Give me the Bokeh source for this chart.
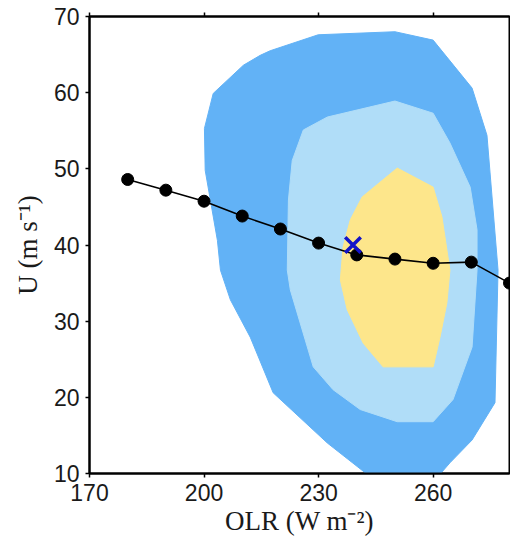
from bokeh.plotting import figure
from bokeh.models import LinearAxis, FixedTicker, Range1d
from bokeh.embed import file_html
from bokeh.resources import INLINE

# binned mean line (OLR in W m-2, U in m s-1)
olr = [180, 190, 200, 210, 220, 230, 240, 250, 260, 270, 280]
u_wind = [48.6, 47.2, 45.75, 43.8, 42.1, 40.25, 38.7, 38.15, 37.6, 37.75, 35.0]

# marked point
cross_olr = [239]
cross_u = [40]

# outer contour (dark blue)
outer_olr = [202.4, 210.3, 214.7, 217.3, 229.9, 250.0, 260.0, 270.2, 274.1, 277.0,
             276.2, 270.2, 264.4, 261.8, 242.7, 232.3, 218.1, 212.1, 206.9, 204.3,
             203.5, 200.3, 200.1]
outer_u = [59.9, 63.6, 64.9, 65.5, 67.6, 68.0, 66.9, 60.6, 54.4, 36.7,
           19.3, 14.4, 11.4, 9.9, 9.9, 14.0, 20.6, 27.9, 32.8, 36.7,
           40.6, 49.8, 55.3]

# middle contour (light blue)
mid_olr = [221.8, 222.1, 223.1, 226.0, 232.3, 250.0, 260.0, 264.4, 269.7, 271.5,
           271.5, 270.2, 265.2, 260.0, 250.6, 240.9, 233.8, 228.6, 222.6]
mid_u = [36.7, 45.9, 51.1, 55.1, 56.8, 58.9, 57.3, 53.4, 47.6, 42.0,
         36.7, 26.6, 19.7, 16.8, 16.8, 18.4, 21.0, 24.0, 34.1]

# inner contour (yellow)
inner_olr = [250.6, 260.0, 262.3, 264.4, 263.6, 261.8, 260.0, 246.9, 241.7, 237.5,
             235.7, 236.4, 238.3, 241.4]
inner_u = [50.1, 47.6, 43.7, 36.7, 32.4, 27.9, 24.0, 24.0, 27.1, 31.5,
           35.4, 39.7, 43.3, 46.3]

x_ticks = [170, 200, 230, 260]
y_ticks = [10, 20, 30, 40, 50, 60, 70]

p = figure(width=510, height=538, x_range=Range1d(170, 280), y_range=Range1d(10, 70),
           output_backend="svg", toolbar_location=None,
           min_border_left=89, min_border_right=1, min_border_top=16, min_border_bottom=10)
p.grid.visible = False
p.background_fill_color = "white"
p.border_fill_color = "white"
p.outline_line_color = "black"
p.outline_line_width = 2

p.patch(outer_olr, outer_u, fill_color="#62B2F6", line_color="#62B2F6", line_width=1)
p.patch(mid_olr, mid_u, fill_color="#B0DDF8", line_color="#B0DDF8", line_width=1)
p.patch(inner_olr, inner_u, fill_color="#FDE68B", line_color="#FDE68B", line_width=1)

p.line(olr, u_wind, line_color="black", line_width=1.6)
p.scatter(olr, u_wind, size=12, marker="circle", fill_color="black", line_color="black")
p.scatter(cross_olr, cross_u, size=22, marker="x", line_color="#1414C8", line_width=3.5)

bottom = p.below[0]
left = p.left[0]
top = LinearAxis()
p.add_layout(top, "above")

for ax in [bottom, left, top]:
    ax.axis_line_width = 2
    ax.axis_line_color = "black"
    ax.major_tick_line_width = 1.5
    ax.major_tick_line_color = "black"
    ax.major_tick_out = 4
    ax.major_tick_in = 0
    ax.minor_tick_line_color = None
    ax.major_label_text_font = "Liberation Sans"
    ax.major_label_text_font_size = "23px"
    ax.major_label_text_color = "#1a1a1a"

bottom.ticker = FixedTicker(ticks=x_ticks)
top.ticker = FixedTicker(ticks=x_ticks)
left.ticker = FixedTicker(ticks=y_ticks)

top.major_label_text_font_size = "0px"
top.major_label_standoff = 0
top.major_label_text_color = None

bottom.major_label_standoff = 6
left.major_label_standoff = 6

bottom.axis_label = "OLR (W m\u207b\u00b2)"
left.axis_label = "U (m s\u207b\u00b9)"
for ax in [bottom, left]:
    ax.axis_label_text_font = "Liberation Serif"
    ax.axis_label_text_font_size = "27px"
    ax.axis_label_text_font_style = "normal"
    ax.axis_label_text_color = "#1a1a1a"
bottom.axis_label_standoff = 2
left.axis_label_standoff = 8

open("out.html", "w").write(file_html(p, INLINE))
